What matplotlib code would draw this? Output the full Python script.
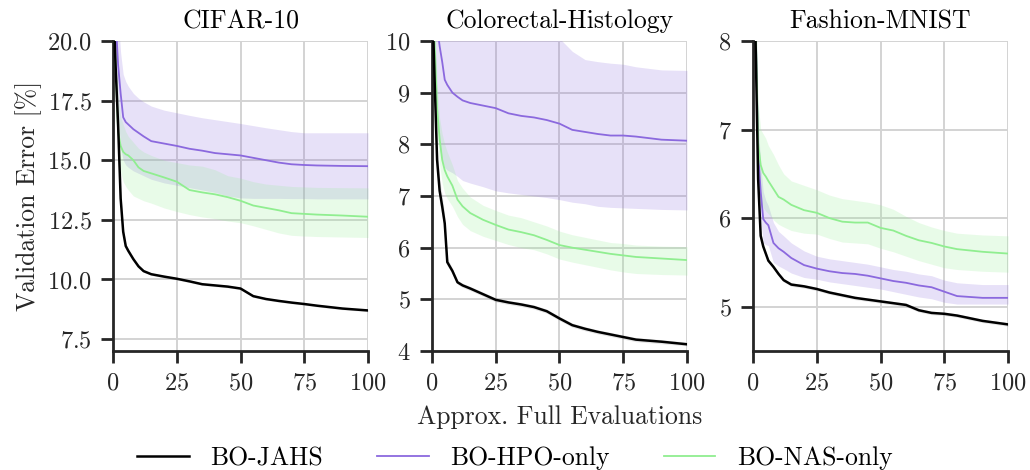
import numpy as np
import matplotlib
matplotlib.use("Agg")
import matplotlib.pyplot as plt

plt.rcParams["font.family"] = ["cmr10", "DejaVu Serif"]
plt.rcParams["mathtext.fontset"] = "cm"
plt.rcParams["axes.formatter.use_mathtext"] = True

# approx. full evaluations (shared grid)
evals = [0, 1, 2, 3, 4, 5, 6, 8, 10, 12, 15, 20, 25, 30, 35, 40, 45, 50, 55, 60, 65, 70, 75, 80, 90, 100]

# CIFAR-10
cifar_jahs = [22, 19, 16.5, 13.4, 12.0, 11.4, 11.2, 10.85, 10.55, 10.35, 10.22, 10.12, 10.03, 9.92, 9.8, 9.75, 9.7, 9.62, 9.3, 9.18, 9.1, 9.03, 8.97, 8.9, 8.78, 8.7]
cifar_jahs_lo = [21.8, 18.6, 16.0, 13.0, 11.8, 11.3, 11.1, 10.78, 10.49, 10.3, 10.17, 10.07, 9.98, 9.87, 9.75, 9.7, 9.65, 9.57, 9.25, 9.13, 9.05, 8.98, 8.92, 8.85, 8.73, 8.65]
cifar_jahs_hi = [22.2, 19.4, 17.0, 13.8, 12.2, 11.5, 11.3, 10.92, 10.61, 10.4, 10.27, 10.17, 10.08, 9.97, 9.85, 9.8, 9.75, 9.67, 9.35, 9.23, 9.15, 9.08, 9.02, 8.95, 8.83, 8.75]
cifar_hpo = [24, 21, 19, 17.8, 16.8, 16.6, 16.5, 16.3, 16.15, 16.0, 15.8, 15.7, 15.6, 15.48, 15.4, 15.3, 15.25, 15.2, 15.1, 15.0, 14.9, 14.83, 14.8, 14.78, 14.76, 14.75]
cifar_hpo_lo = [22, 19.5, 17.0, 15.5, 15.0, 14.8, 14.7, 14.55, 14.45, 14.35, 14.2, 14.05, 13.95, 13.85, 13.75, 13.65, 13.5, 13.42, 13.4, 13.4, 13.4, 13.39, 13.39, 13.38, 13.38, 13.38]
cifar_hpo_hi = [26, 23, 21, 19.5, 18.6, 18.3, 18.1, 17.8, 17.6, 17.45, 17.27, 17.1, 16.99, 16.88, 16.78, 16.7, 16.62, 16.54, 16.45, 16.36, 16.28, 16.2, 16.15, 16.15, 16.15, 16.15]
cifar_nas = [22, 19, 16.2, 15.6, 15.35, 15.25, 15.2, 15.0, 14.7, 14.55, 14.45, 14.28, 14.1, 13.75, 13.65, 13.57, 13.45, 13.3, 13.1, 13.0, 12.9, 12.78, 12.75, 12.72, 12.68, 12.63]
cifar_nas_lo = [21, 18, 15.5, 14.5, 14.1, 13.9, 13.75, 13.5, 13.4, 13.3, 13.2, 13.0, 12.85, 12.72, 12.62, 12.55, 12.45, 12.38, 12.25, 12.1, 11.95, 11.85, 11.82, 11.8, 11.78, 11.76]
cifar_nas_hi = [22, 19.5, 17.8, 16.8, 16.5, 16.2, 16.0, 15.75, 15.5, 15.35, 15.2, 15.0, 14.9, 14.8, 14.75, 14.6, 14.35, 14.25, 14.1, 14.0, 13.95, 13.9, 13.88, 13.86, 13.85, 13.84]

# Colorectal-Histology
colo_jahs = [11, 9.3, 7.7, 7.1, 6.8, 6.47, 5.72, 5.55, 5.33, 5.27, 5.21, 5.1, 4.99, 4.94, 4.9, 4.85, 4.77, 4.63, 4.5, 4.43, 4.37, 4.32, 4.27, 4.22, 4.18, 4.13]
colo_jahs_lo = [10.8, 9.0, 7.4, 6.85, 6.6, 6.32, 5.65, 5.5, 5.29, 5.23, 5.17, 5.06, 4.95, 4.9, 4.86, 4.81, 4.73, 4.59, 4.46, 4.39, 4.33, 4.28, 4.23, 4.18, 4.14, 4.1]
colo_jahs_hi = [11.2, 9.6, 8.0, 7.35, 7.0, 6.62, 5.8, 5.6, 5.37, 5.31, 5.25, 5.14, 5.03, 4.98, 4.94, 4.89, 4.81, 4.67, 4.54, 4.47, 4.41, 4.36, 4.31, 4.26, 4.22, 4.17]
colo_hpo = [13, 11.5, 10.3, 9.9, 9.6, 9.25, 9.15, 9.0, 8.92, 8.85, 8.8, 8.75, 8.7, 8.6, 8.55, 8.52, 8.47, 8.4, 8.28, 8.24, 8.2, 8.17, 8.17, 8.15, 8.09, 8.07]
colo_hpo_lo = [12, 10, 8.5, 7.9, 7.7, 7.55, 7.5, 7.45, 7.38, 7.3, 7.25, 7.18, 7.1, 7.06, 7.03, 7.0, 6.97, 6.93, 6.88, 6.85, 6.8, 6.78, 6.77, 6.76, 6.74, 6.73]
colo_hpo_hi = [14, 13, 12, 11.5, 11.3, 11.1, 11.0, 10.8, 10.7, 10.6, 10.5, 10.4, 10.3, 10.2, 10.15, 10.1, 10.08, 10.05, 9.8, 9.64, 9.6, 9.57, 9.55, 9.5, 9.44, 9.43]
colo_nas = [12, 10, 8.7, 8.1, 7.7, 7.5, 7.38, 7.2, 6.93, 6.8, 6.67, 6.54, 6.44, 6.35, 6.3, 6.24, 6.15, 6.05, 6.0, 5.96, 5.92, 5.88, 5.85, 5.82, 5.79, 5.76]
colo_nas_lo = [11.5, 9.5, 8.2, 7.6, 7.25, 7.05, 6.95, 6.8, 6.6, 6.45, 6.33, 6.22, 6.14, 6.06, 6.0, 5.96, 5.88, 5.78, 5.72, 5.67, 5.62, 5.57, 5.53, 5.5, 5.48, 5.47]
colo_nas_hi = [12.5, 10.5, 9.2, 8.5, 8.2, 8.0, 7.85, 7.6, 7.3, 7.15, 6.98, 6.82, 6.72, 6.63, 6.58, 6.5, 6.42, 6.32, 6.25, 6.2, 6.15, 6.1, 6.08, 6.05, 6.03, 6.02]

# Fashion-MNIST
fash_jahs = [9, 8.0, 6.44, 5.8, 5.68, 5.6, 5.52, 5.45, 5.37, 5.3, 5.25, 5.23, 5.2, 5.16, 5.13, 5.1, 5.08, 5.06, 5.04, 5.02, 4.96, 4.93, 4.92, 4.9, 4.84, 4.8]
fash_jahs_lo = [8.9, 7.8, 6.3, 5.74, 5.64, 5.57, 5.5, 5.43, 5.35, 5.28, 5.23, 5.21, 5.18, 5.14, 5.11, 5.08, 5.06, 5.04, 5.02, 5.0, 4.94, 4.91, 4.9, 4.88, 4.82, 4.78]
fash_jahs_hi = [9.1, 8.2, 6.58, 5.86, 5.72, 5.63, 5.54, 5.47, 5.39, 5.32, 5.27, 5.25, 5.22, 5.18, 5.15, 5.12, 5.1, 5.08, 5.06, 5.04, 4.98, 4.95, 4.94, 4.92, 4.86, 4.82]
fash_hpo = [9, 8.2, 6.74, 6.3, 5.99, 5.95, 5.92, 5.72, 5.66, 5.62, 5.55, 5.47, 5.43, 5.4, 5.38, 5.37, 5.35, 5.32, 5.29, 5.27, 5.24, 5.22, 5.17, 5.12, 5.1, 5.1]
fash_hpo_lo = [8.5, 7.8, 6.4, 6.0, 5.72, 5.7, 5.69, 5.5, 5.46, 5.43, 5.38, 5.33, 5.31, 5.28, 5.26, 5.24, 5.22, 5.2, 5.17, 5.14, 5.11, 5.09, 5.05, 5.03, 5.03, 5.03]
fash_hpo_hi = [9.5, 8.6, 7.1, 6.6, 6.3, 6.2, 6.14, 5.95, 5.85, 5.8, 5.72, 5.63, 5.57, 5.54, 5.52, 5.5, 5.48, 5.45, 5.42, 5.4, 5.37, 5.35, 5.3, 5.27, 5.25, 5.25]
fash_nas = [9, 8.2, 6.85, 6.6, 6.51, 6.47, 6.42, 6.33, 6.24, 6.21, 6.15, 6.09, 6.06, 6.0, 5.96, 5.95, 5.95, 5.89, 5.86, 5.8, 5.75, 5.72, 5.68, 5.65, 5.62, 5.6]
fash_nas_lo = [8.5, 7.8, 6.45, 6.2, 6.12, 6.08, 6.05, 5.98, 5.93, 5.9, 5.86, 5.83, 5.82, 5.77, 5.73, 5.72, 5.71, 5.66, 5.62, 5.57, 5.52, 5.48, 5.44, 5.42, 5.4, 5.39]
fash_nas_hi = [9.5, 8.6, 7.3, 7.0, 6.95, 6.9, 6.82, 6.72, 6.6, 6.5, 6.42, 6.37, 6.32, 6.26, 6.22, 6.2, 6.18, 6.15, 6.1, 6.02, 5.95, 5.9, 5.86, 5.83, 5.81, 5.8]

titles = ["CIFAR-10", "Colorectal-Histology", "Fashion-MNIST"]
labels = ["BO-JAHS", "BO-HPO-only", "BO-NAS-only"]
colors = ["black", "#8b69de", "lightgreen"]
band_colors = ["grey", "#8b69de", "lightgreen"]
ylims = [(7, 20), (4, 10), (4.5, 8)]
yticks = [[7.5, 10, 12.5, 15, 17.5, 20], [4, 5, 6, 7, 8, 9, 10], [5, 6, 7, 8]]

panels = [
    [(cifar_jahs, cifar_jahs_lo, cifar_jahs_hi), (cifar_hpo, cifar_hpo_lo, cifar_hpo_hi), (cifar_nas, cifar_nas_lo, cifar_nas_hi)],
    [(colo_jahs, colo_jahs_lo, colo_jahs_hi), (colo_hpo, colo_hpo_lo, colo_hpo_hi), (colo_nas, colo_nas_lo, colo_nas_hi)],
    [(fash_jahs, fash_jahs_lo, fash_jahs_hi), (fash_hpo, fash_hpo_lo, fash_hpo_hi), (fash_nas, fash_nas_lo, fash_nas_hi)],
]

fig = plt.figure(figsize=(10.3, 4.7), dpi=100)
lefts = [0.1097, 0.4194, 0.7311]
axes = [fig.add_axes([l, 0.2532, 0.2476, 0.6596]) for l in lefts]

fs = 18.5
for i, ax in enumerate(axes):
    # bands first, lines on top
    for j, (m, lo, hi) in enumerate(panels[i]):
        ax.fill_between(evals, lo, hi, color=band_colors[j], alpha=0.2, lw=0, zorder=2)
    for j in [1, 2, 0]:
        m = panels[i][j][0]
        ax.plot(evals, m, color=colors[j], lw=1.8 if j == 0 else 1.3, zorder=3, label=labels[j])

    ax.set_xlim(0, 100)
    ax.set_ylim(*ylims[i])
    ax.set_xticks([0, 25, 50, 75, 100])
    ax.set_yticks(yticks[i])
    ax.set_title(titles[i], fontsize=fs, pad=9)
    ax.grid(True, color="#d3d3d3", lw=1.4, zorder=0)
    ax.set_axisbelow(True)
    for s in ["top", "right"]:
        ax.spines[s].set_visible(False)
    for s in ["left", "bottom"]:
        ax.spines[s].set_linewidth(2.0)
        ax.spines[s].set_color("#262626")
    ax.tick_params(direction="out", length=8.5, width=2.0, color="#262626",
                   labelsize=17.5, pad=7, labelcolor="#262626")

axes[0].set_ylabel("Validation Error [%]", fontsize=fs, color="#262626")
axes[1].set_xlabel("Approx. Full Evaluations", fontsize=fs, color="#262626", labelpad=8)

handles, lbls = axes[0].get_legend_handles_labels()
order = [lbls.index(l) for l in labels]
fig.legend([handles[k] for k in order], labels, loc="lower center",
           bbox_to_anchor=(0.5, -0.05), ncol=3, frameon=False, fontsize=fs,
           handlelength=2.0, handletextpad=0.85, columnspacing=2.1)

fig.savefig("out.png", dpi=100)
